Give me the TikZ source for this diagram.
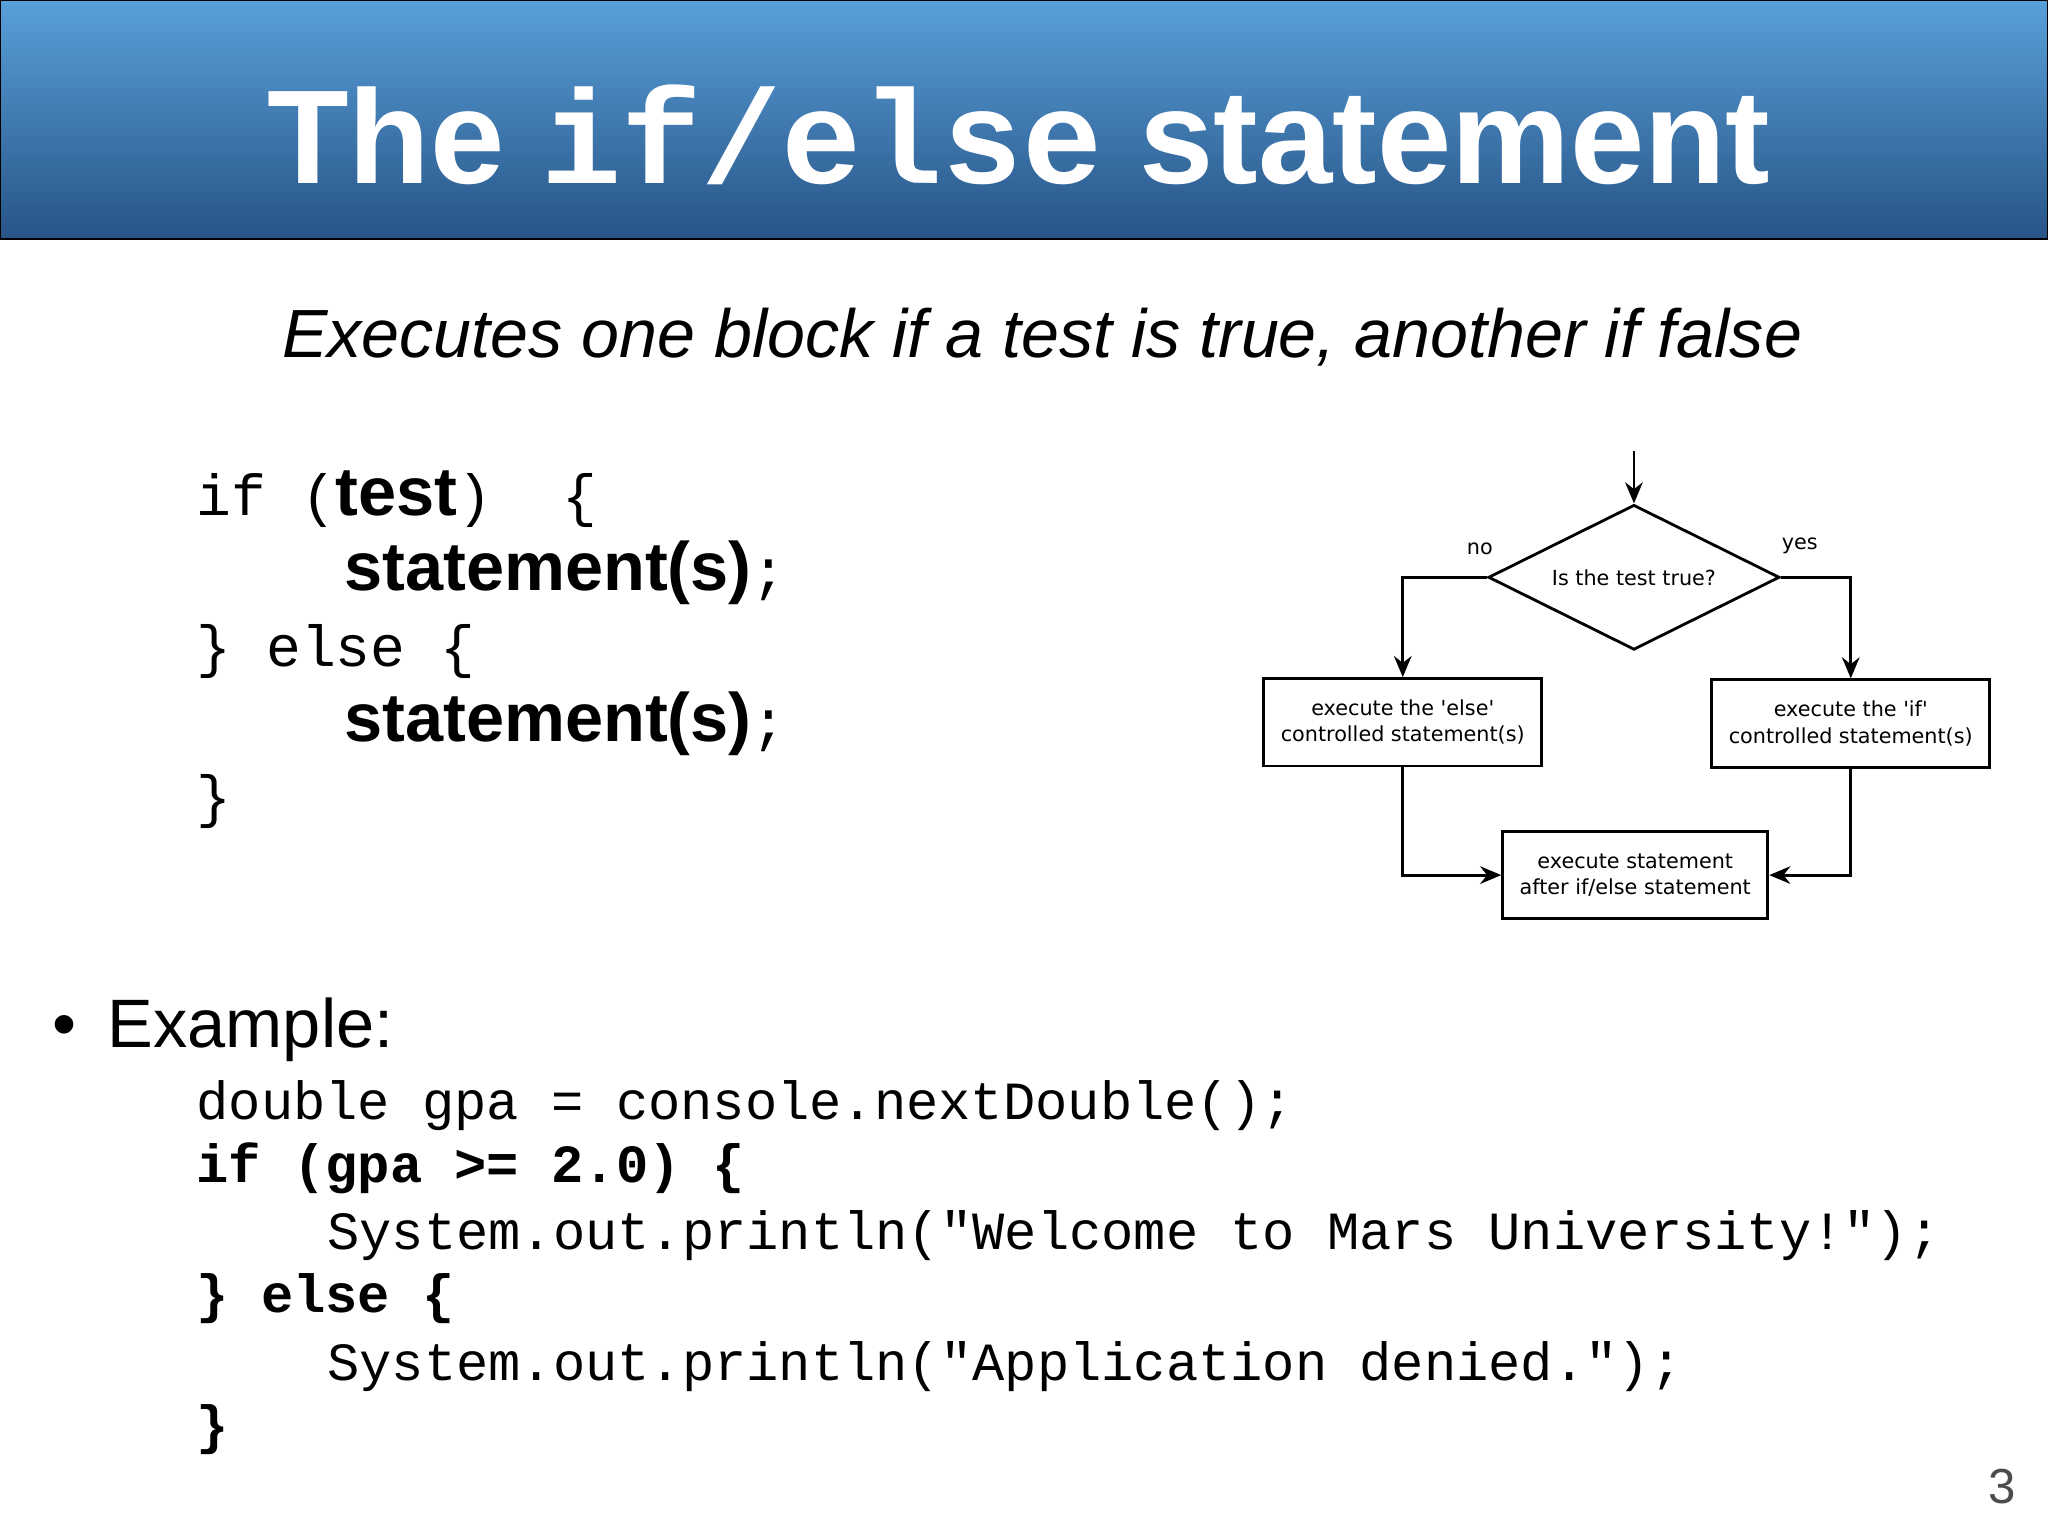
\documentclass[tikz,border=0pt]{standalone}
\usepackage{fontspec}
\setmainfont{Liberation Sans}
\setsansfont{Liberation Sans}
\setmonofont{Liberation Mono}
\newfontfamily\chartfont{DejaVu Sans}
\usetikzlibrary{shapes.geometric,arrows.meta,positioning}
\definecolor{titletop}{RGB}{88,160,218}
\definecolor{titlebot}{RGB}{40,84,134}
\tikzset{
  chartbox/.style={draw, thick, minimum width=213\du, minimum height=67\du, align=center, font=\chartfont\fontsize{5.9}{7.5}\selectfont, inner sep=1pt},
  chartflow/.style={thick, -{Stealth[length=6pt,width=5pt]}},
  codeline/.style={anchor=base west, inner sep=0pt, font=\ttfamily\fontsize{16.5}{20}\selectfont},
  excode/.style={anchor=base west, inner sep=0pt, font=\ttfamily\fontsize{15.3}{19}\selectfont}
}
\newcommand{\du}{*0.013061cm}
\begin{document}
\begin{tikzpicture}[x=0.013061cm, y=-0.013061cm]
\useasboundingbox (0,0) rectangle (1568,1176);
% title band
\shade[top color=titletop, bottom color=titlebot, draw=black] (0,0) rectangle (1568,183);
\node[text=white, font=\bfseries\fontsize{38}{42}\selectfont] (title) at (780,103) {The \texttt{if/else} statement};
\node[font=\itshape\fontsize{19.4}{23}\selectfont] (sub) at (798,258) {Executes one block if a test is true, another if false};
% syntax
\node[codeline] (s1) at (150,395) {if\ \ \hspace{-0.6em}(\textsf{\bfseries\fontsize{19.5}{24}\selectfont test})\ \ \{};
\node[codeline] (s2) at (263,452) {\textsf{\bfseries\fontsize{19.5}{24}\selectfont statement(s)};};
\node[codeline] (s3) at (150,510) {\}\ else\ \{};
\node[codeline] (s4) at (263,568) {\textsf{\bfseries\fontsize{19.5}{24}\selectfont statement(s)};};
\node[codeline] (s5) at (150,625) {\}};
% flowchart
\node[diamond, draw, thick, minimum width=223\du, minimum height=111\du, aspect=2, inner sep=0pt, font=\chartfont\fontsize{5.9}{7.5}\selectfont] (test) at (1251,442) {Is the test true?};
\coordinate (entry) at (1251,345);
\node[chartbox] (elsebox) at (1074,553) {execute the 'else'\\controlled statement(s)};
\node[chartbox] (ifbox) at (1417,554) {execute the 'if'\\controlled statement(s)};
\node[chartbox, minimum width=203\du] (after) at (1252,670) {execute statement\\after if/else statement};
\draw[chartflow] (entry) -- (test.north);
\draw[chartflow] (test.west) -| (elsebox.north);
\draw[chartflow] (test.east) -| (ifbox.north);
\draw[chartflow] (elsebox.south) |- (after.west);
\draw[chartflow] (ifbox.south) |- (after.east);
\node[font=\chartfont\fontsize{5.9}{7.5}\selectfont] (no) at (1133,420) {no};
\node[font=\chartfont\fontsize{5.9}{7.5}\selectfont] (yes) at (1378,418) {yes};
% example
\node[anchor=base west, inner sep=0pt, font=\fontsize{19.5}{24}\selectfont] (bul) at (40,802) {\textbullet};
\node[anchor=base west, inner sep=0pt, font=\fontsize{19.5}{24}\selectfont] (ex) at (82,802) {Example:};
\node[excode] (e1) at (150,857) {double gpa = console.nextDouble();};
\node[excode] (e2) at (150,905) {\bfseries if (gpa >= 2.0) \{};
\node[excode] (e3) at (250,957) {System.out.println("Welcome to Mars University!");};
\node[excode] (e4) at (150,1005) {\bfseries \} else \{};
\node[excode] (e5) at (250,1057) {System.out.println("Application denied.");};
\node[excode] (e6) at (150,1105) {\bfseries \}};
\node[text=black!70, font=\fontsize{14}{16}\selectfont] (page) at (1533,1138) {3};
\end{tikzpicture}
\end{document}
